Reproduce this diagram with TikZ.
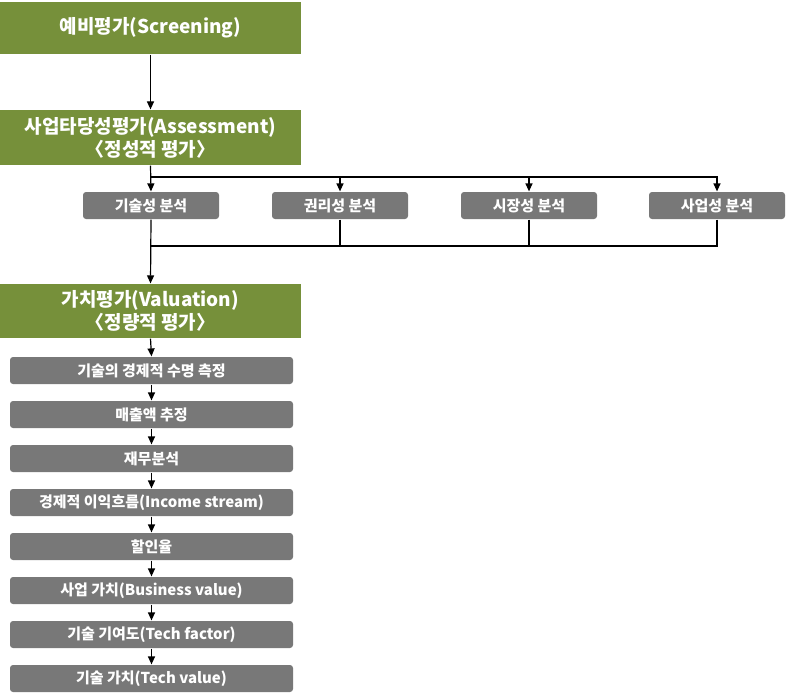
\documentclass[tikz,border=0pt]{standalone}
\usepackage{fontspec}
\setmainfont{Noto Sans CJK KR}
\usetikzlibrary{arrows.meta}
\definecolor{evalgreen}{RGB}{118,144,58}
\definecolor{stepgray}{RGB}{120,120,120}

\begin{document}
\begin{tikzpicture}[x=1pt,y=-1pt,line width=1.2pt,
    >={Triangle[length=8pt,width=7pt]},
    phase/.style={fill=evalgreen,text=white,minimum width=301pt,inner sep=0pt,
      align=center,font=\fontsize{19}{23}\selectfont\bfseries},
    analysis/.style={fill=stepgray,text=white,rounded corners=3pt,minimum width=136pt,
      minimum height=27pt,inner sep=0pt,font=\fontsize{15}{17}\selectfont\bfseries},
    stepbox/.style={fill=stepgray,text=white,rounded corners=3pt,minimum width=283pt,
      minimum height=27pt,inner sep=0pt,font=\fontsize{15}{17}\selectfont\bfseries}]

	\useasboundingbox (0,0) rectangle (787,698);

	% three phases
	\node[phase,minimum height=52pt] (screen) at (150.5,28) {예비평가(Screening)};
	\node[phase,minimum height=55pt] (assess) at (150.5,137.5) {사업타당성평가(Assessment)\\〈정성적 평가〉};
	\node[phase,minimum height=54pt] (value) at (150.5,311) {가치평가(Valuation)\\〈정량적 평가〉};

	\draw[->] (screen) -- (assess);

	% qualitative analyses
	\node[analysis] (tech) at (151,205.5) {기술성 분석};
	\node[analysis] (right) at (340,205.5) {권리성 분석};
	\node[analysis] (market) at (529,205.5) {시장성 분석};
	\node[analysis] (biz) at (717,205.5) {사업성 분석};

	\coordinate (fork) at (151,177);
	\coordinate (merge) at (151,246);

	\draw[->] (assess.south) -- (tech.north);
	\foreach \n in {right,market,biz}
	  \draw[->] (fork) -| (\n.north);
	\foreach \n in {right,market,biz}
	  \draw (\n.south) |- (merge);
	\draw[->] (tech.south) -- (value.north);

	% quantitative steps
	\foreach \i/\t in {1/기술의 경제적 수명 측정,2/매출액 추정,3/재무분석,
	    4/경제적 이익흐름(Income stream),5/할인율,6/사업 가치(Business value),
	    7/기술 기여도(Tech factor),8/기술 가치(Tech value)}
	  \node[stepbox] (s\i) at (151.5,370.5+44*\i-44) {\t};

	\draw[->] (value.south) -- (s1.north);
	\foreach \i [evaluate=\i as \j using int(\i+1)] in {1,...,7}
	  \draw[->] (s\i.south) -- (s\j.north);

\end{tikzpicture}
\end{document}
